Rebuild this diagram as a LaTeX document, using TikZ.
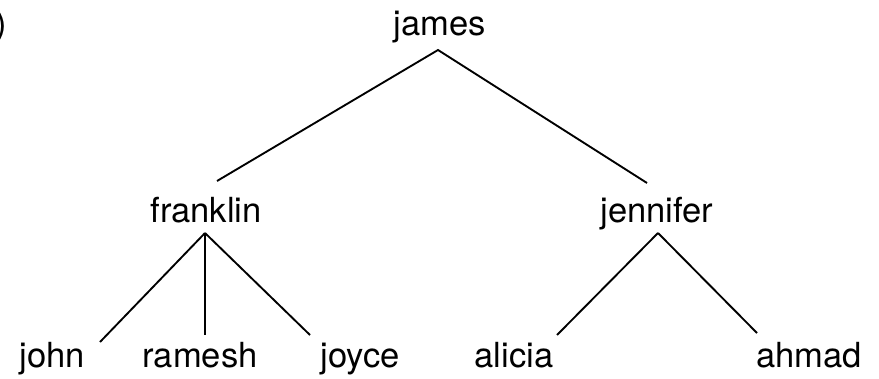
\documentclass[tikz,border=0pt]{standalone}
\usepackage{fontspec}
\setmainfont{TeX Gyre Heros}
\usepackage{tikz}

\begin{document}
\begin{tikzpicture}[x=0.03cm,y=0.03cm,
  person/.style={anchor=base,inner sep=0pt,font=\fontsize{29.5}{32}\selectfont},
  edge/.style={line width=1.6pt}]
  \useasboundingbox[fill=white] (0,0) rectangle (879,378);
  \node[person,anchor=base east] (tag) at (7,343) {)};
  \node[person] (james) at (440,343) {james};
  \node[person] (franklin) at (206,156) {franklin};
  \node[person] (jennifer) at (657,156) {jennifer};
  \node[person] (john) at (52,11) {john};
  \node[person] (ramesh) at (200,11) {ramesh};
  \node[person] (joyce) at (360,11) {joyce};
  \node[person] (alicia) at (514,11) {alicia};
  \node[person] (ahmad) at (809,11) {ahmad};
  \coordinate (james-b) at (438,328);
  \coordinate (franklin-t) at (217,197);
  \coordinate (jennifer-t) at (647,195);
  \coordinate (franklin-b) at (205,145);
  \coordinate (jennifer-b) at (658,145);
  \coordinate (john-t) at (100,36);
  \coordinate (ramesh-t) at (205,43);
  \coordinate (joyce-t) at (310,43);
  \coordinate (alicia-t) at (557,43);
  \coordinate (ahmad-t) at (757,45);
  \draw[edge] (franklin-t) -- (james-b) -- (jennifer-t);
  \foreach \c in {john,ramesh,joyce} \draw[edge] (franklin-b) -- (\c-t);
  \foreach \c in {alicia,ahmad} \draw[edge] (jennifer-b) -- (\c-t);
\end{tikzpicture}
\end{document}
